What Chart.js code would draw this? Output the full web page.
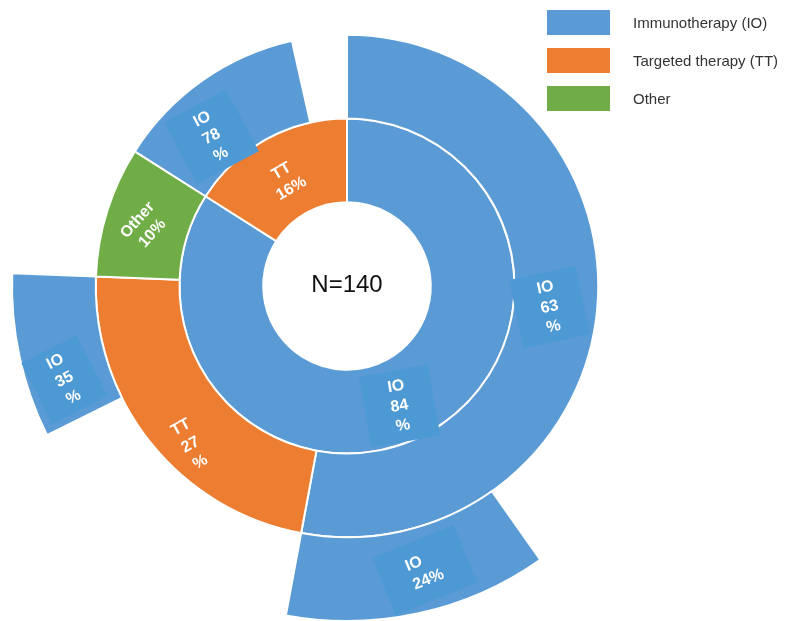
<!DOCTYPE html>
<html>
<head>
<meta charset="utf-8">
<script src="https://cdn.jsdelivr.net/npm/chart.js@4.4.0/dist/chart.umd.min.js"></script>
<style>
  html, body { margin: 0; padding: 0; background: #fff; overflow: hidden; }
  #wrap { position: relative; width: 788px; height: 621px; }
  #chart { position: absolute; left: 0; top: 0; }
  .legend { position: absolute; left: 547px; top: 10px; font: 15px "Liberation Sans", Arial, sans-serif; color: #333; }
  .legend-row { display: flex; align-items: center; height: 25px; margin-bottom: 13px; }
  .legend-box { width: 63px; height: 25px; margin-right: 23px; }
</style>
</head>
<body>
<div id="wrap">
  <canvas id="chart" width="788" height="621"></canvas>
  <div class="legend" id="legend"></div>
</div>
<script>
/* ── DATA ── */
const sampleSize = 140;

// first line, % of all patients
const firstLine    = ['IO', 'TT'];
const firstPct     = [84, 16];

// second line, % of each first-line group
const afterIoLabels = ['IO', 'TT', 'Other'];
const afterIoPct    = [63, 27, 10];
const afterTtLabels = ['IO'];
const afterTtPct    = [78];

// third line IO, % of the IO→IO and IO→TT groups
const thirdLabels = ['IO', 'IO'];
const thirdPct    = [24, 35];

const legendNames = ['Immunotherapy (IO)', 'Targeted therapy (TT)', 'Other'];

/* ── COLOURS ── */
const COL = { IO: '#5B9BD5', TT: '#ED7D31', Other: '#70AD47' };
const NONE = 'rgba(0,0,0,0)';

/* ── RING VALUES (share of the whole circle) ── */
const ioShare = firstPct[0], ttShare = firstPct[1];

const ring2 = afterIoPct.map(p => ioShare * p / 100)
  .concat(afterTtPct.map(p => ttShare * p / 100));
ring2.push(ttShare - afterTtPct.reduce((a, b) => a + b, 0) * ttShare / 100);   // no second line after TT

const ioIo = ring2[0], ioTt = ring2[1];
const ioIoIo = ioIo * thirdPct[0] / 100;
const ioTtIo = ioTt * thirdPct[1] / 100;
const ring3 = [ioIo - ioIoIo, ioIoIo, ioTt - ioTtIo, ioTtIo, 100 - ioIo - ioTt];

const ring2Colors = afterIoLabels.map(l => COL[l]).concat(afterTtLabels.map(l => COL[l]), [NONE]);
const ring3Colors = [NONE, COL[thirdLabels[0]], NONE, COL[thirdLabels[1]], NONE];
const ring2Borders = ring2Colors.map(c => c === NONE ? 0 : 2);
const ring3Borders = ring3Colors.map(c => c === NONE ? 0 : 2);

/* ── SEGMENT LABELS ── */
// ds: 0 = outer ring, 2 = inner ring; dx/dy nudge from the arc centroid
const segLabels = [
  { ds: 2, i: 0, lines: ['IO', String(firstPct[0]), '%'],            rot: -10, dx: -8,  dy: 10, box: [70, 72] },
  { ds: 2, i: 1, lines: ['TT', firstPct[1] + '%'],                     rot: -30, dx: 0,   dy: 4 },
  { ds: 1, i: 0, lines: ['IO', String(afterIoPct[0]), '%'],           rot: -12, dx: -6,  dy: 2,  box: [68, 70] },
  { ds: 1, i: 1, lines: ['TT', String(afterIoPct[1]), '%'],           rot: -29, dx: 7,   dy: 28 },
  { ds: 1, i: 2, lines: ['Other', afterIoPct[2] + '%'],                rot: -48, dx: -2,  dy: 3 },
  { ds: 1, i: 3, lines: ['IO', String(afterTtPct[0]), '%'],           rot: -28, dx: -15, dy: 22, box: [70, 70] },
  { ds: 0, i: 1, lines: ['IO', thirdPct[0] + '%'],                     rot: -22, dx: 15,  dy: -2, box: [88, 62], left: true },
  { ds: 0, i: 3, lines: ['IO', String(thirdPct[1]), '%'],            rot: -27, dx: 4,   dy: 32, box: [62, 68] }
];

const labelPlugin = {
  id: 'segLabels',
  afterDatasetsDraw(chart) {
    const { ctx } = chart;
    segLabels.forEach(l => {
      const arc = chart.getDatasetMeta(l.ds).data[l.i];
      const c = arc.getCenterPoint();
      ctx.save();
      ctx.translate(c.x + l.dx, c.y + l.dy);
      ctx.rotate(l.rot * Math.PI / 180);
      if (l.box) {
        ctx.fillStyle = '#4D99D4';
        ctx.fillRect(-l.box[0] / 2, -l.box[1] / 2, l.box[0], l.box[1]);
      }
      ctx.fillStyle = '#fff';
      ctx.font = 'bold 16px "Liberation Sans", Arial, sans-serif';
      ctx.textBaseline = 'middle';
      const lh = 20;
      const y0 = -(l.lines.length - 1) * lh / 2;
      if (l.left) {
        const w = Math.max(...l.lines.map(s => ctx.measureText(s).width));
        ctx.textAlign = 'left';
        l.lines.forEach((s, k) => ctx.fillText(s, -w / 2, y0 + k * lh));
      } else {
        ctx.textAlign = 'center';
        l.lines.forEach((s, k) => ctx.fillText(s, 0, y0 + k * lh));
      }
      ctx.restore();
    });

    // sample size in the hole
    const a = chart.chartArea;
    ctx.save();
    ctx.fillStyle = '#111';
    ctx.font = '24px "Liberation Sans", Arial, sans-serif';
    ctx.textAlign = 'center';
    ctx.textBaseline = 'middle';
    ctx.fillText('N=' + sampleSize, (a.left + a.right) / 2, (a.top + a.bottom) / 2 - 1);
    ctx.restore();
  }
};

new Chart(document.getElementById('chart'), {
  type: 'doughnut',
  plugins: [labelPlugin],
  data: {
    datasets: [
      { data: ring3, backgroundColor: ring3Colors, borderColor: '#fff', borderWidth: ring3Borders, clip: false },
      { data: ring2, backgroundColor: ring2Colors, borderColor: '#fff', borderWidth: ring2Borders, clip: false },
      { data: firstPct, backgroundColor: firstLine.map(l => COL[l]), borderColor: '#fff', borderWidth: 2, clip: false }
    ]
  },
  options: {
    responsive: false,
    animation: false,
    radius: 335,
    cutout: '25%',
    layout: { padding: { left: 0, right: 94, top: 0, bottom: 49 } },
    plugins: { legend: { display: false }, tooltip: { enabled: false } }
  }
});

/* ── LEGEND ── */
document.getElementById('legend').innerHTML = legendNames.map((n, k) =>
  `<div class="legend-row"><div class="legend-box" style="background:${Object.values(COL)[k]}"></div><span>${n}</span></div>`
).join('');
</script>
</body>
</html>
